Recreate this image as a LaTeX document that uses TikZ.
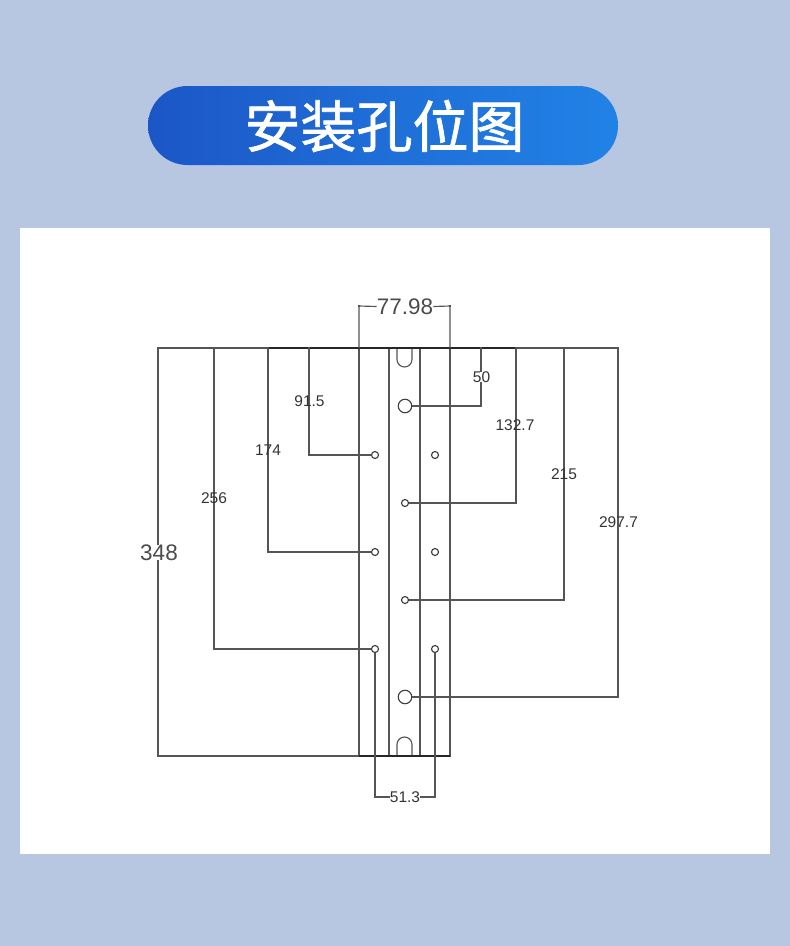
\documentclass[tikz,border=0pt]{standalone}
\usepackage{fontspec}
\setmainfont{Liberation Sans}
\newfontfamily\cjk[FakeBold=1.2]{Noto Sans CJK SC}
\definecolor{pagebg}{HTML}{B7C6E1}
\definecolor{pillL}{HTML}{1C56C6}
\definecolor{pillR}{HTML}{2182E6}
\definecolor{cad}{HTML}{555555}
\tikzset{
  cadline/.style={draw=cad,line width=1.15pt},
  edge/.style={draw=black!85,line width=1.4pt},
  tick/.style={fill=cad,minimum size=2.6pt,inner sep=0pt,draw=none,shape=rectangle},
  smallhole/.style={circle,draw=black!75,line width=1.15pt,fill=white,minimum size=7pt,inner sep=0pt},
  bighole/.style={circle,draw=black!75,line width=1.15pt,fill=white,minimum size=13.5pt,inner sep=0pt},
  dimtext/.style={font=\fontsize{15.5}{15.5}\selectfont,text=black!80,inner sep=0pt},
  bigdim/.style={font=\fontsize{22.5}{22.5}\selectfont,text=black!70,inner sep=0pt},
}
\begin{document}
\begin{tikzpicture}[x=1pt,y=-1pt]
\useasboundingbox (0,0) rectangle (790,946);
\fill[pagebg] (0,0) rectangle (790,946);
\fill[white] (20,228) rectangle (770,854);
\shade[left color=pillL,right color=pillR,middle color=pillL!45!pillR,rounded corners=39.5pt] (148,86) rectangle (618,165);
\node[text=white,inner sep=0pt,font=\cjk\fontsize{56}{56}\selectfont] (title) at (384.5,126) {安装孔位图};

% top datum and plate
\coordinate (dl) at (158,348);
\coordinate (dr) at (618,348);
\draw[cadline] (dl) -- (dr);
\draw[cadline] (359,348) rectangle (450,756);
\draw[cadline] (389,348) -- (389,756);
\draw[cadline] (420,348) -- (420,756);
\draw[edge] (268,348) -- (516,348);
\draw[edge] (359,756) -- (450,756);
% slots
\draw[cadline] (397,349) -- (397,359.5) arc[start angle=180,end angle=0,radius=7.5] -- (412,349);
\draw[cadline] (397,755) -- (397,744.5) arc[start angle=180,end angle=360,radius=7.5] -- (412,755);

% 348 baseline
\coordinate (bl) at (158,756);
\draw[cadline] (bl) -- (359,756);

% holes
\node[smallhole] (h1) at (375,455) {};
\node[smallhole] (h2) at (375,552) {};
\node[smallhole] (h3) at (375,649) {};
\node[smallhole] (h4) at (435,455) {};
\node[smallhole] (h5) at (435,552) {};
\node[smallhole] (h6) at (435,649) {};
\node[smallhole] (h7) at (405,503) {};
\node[smallhole] (h8) at (405,600) {};
\node[bighole] (b1) at (405,406) {};
\node[bighole] (b2) at (405,697) {};

% left dimensions
\draw[cadline] (dl) -- (bl);
\coordinate (c256t) at (214,348); \coordinate (c256b) at (214,649);
\coordinate (c174t) at (268,348); \coordinate (c174b) at (268,552);
\coordinate (c915t) at (309,348); \coordinate (c915b) at (309,455);
\draw[cadline] (c256t) -- (c256b) -- (h3.west);
\draw[cadline] (c174t) -- (c174b) -- (h2.west);
\draw[cadline] (c915t) -- (c915b) -- (h1.west);

% right dimensions
\coordinate (c50t) at (481,348); \coordinate (c50b) at (481,406);
\coordinate (c132t) at (516,348); \coordinate (c132b) at (516,503);
\coordinate (c215t) at (564,348); \coordinate (c215b) at (564,600);
\coordinate (c297t) at (618,348); \coordinate (c297b) at (618,697);
\draw[cadline] (b1.east) -- (c50b) -- (c50t);
\draw[cadline] (h7.east) -- (c132b) -- (c132t);
\draw[cadline] (h8.east) -- (c215b) -- (c215t);
\draw[cadline] (b2.east) -- (c297b) -- (c297t);

% top width dimension
\node[bigdim] (w) at (405,306.5) {77.98};
\coordinate (wl) at (359,306); \coordinate (wr) at (450,306);
\coordinate (wlb) at (359,348); \coordinate (wrb) at (450,348);
\draw[cadline] (w.west) -- (wl) -- (wlb);
\draw[cadline] (w.east) -- (wr) -- (wrb);

% bottom width dimension
\node[dimtext] (s) at (405,797) {51.3};
\coordinate (sl) at (375,797); \coordinate (sr) at (435,797);
\draw[cadline] (s.west) -- (sl) -- (h3.south);
\draw[cadline] (s.east) -- (sr) -- (h6.south);

% ticks
\foreach \c in {dl,c256t,c174t,c915t,c50t,c132t,c215t,c297t,c256b,c174b,c915b,c50b,c132b,c215b,c297b,bl,wl,wr,sl,sr}
  \node[tick] at (\c) {};

% labels
\node[bigdim,fill=white] (l348) at (159,552.5) {348};
\node[dimtext] (l256) at (214,498) {256};
\node[dimtext] (l174) at (268,450) {174};
\node[dimtext] (l915) at (309.5,401.5) {91.5};
\node[dimtext,fill=white] (l50) at (481.5,377) {50};
\node[dimtext] (l132) at (515,425.5) {132.7};
\node[dimtext] (l215) at (564,474.5) {215};
\node[dimtext] (l297) at (618.5,522.5) {297.7};
\end{tikzpicture}
\end{document}
